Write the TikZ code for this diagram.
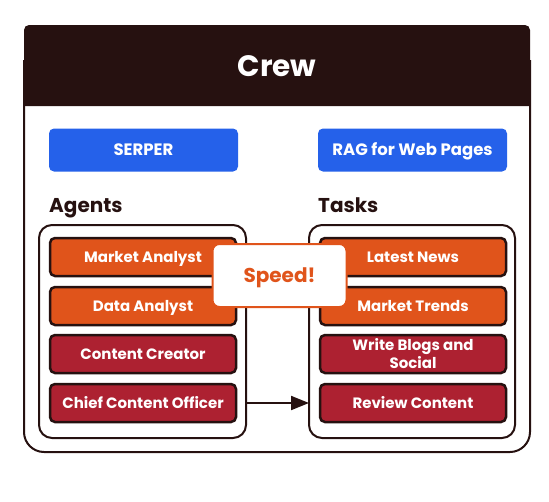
\documentclass[tikz,border=0pt]{standalone}
\usepackage{fontspec}
\setmainfont{Poppins}
\usetikzlibrary{arrows.meta}
\definecolor{dark}{HTML}{261110}
\definecolor{bluebtn}{HTML}{2561EA}
\definecolor{orng}{HTML}{E0541B}
\definecolor{crim}{HTML}{AD2131}
\tikzset{
  tool/.style={rectangle, rounded corners=5pt, fill=bluebtn, text=white, minimum width=189pt, minimum height=43pt, inner sep=0pt, text height=11.5pt, text depth=0pt, font=\bfseries\fontsize{16.5}{19}\selectfont},
  heading/.style={anchor=base west, inner sep=0pt, text=dark, font=\bfseries\fontsize{20}{24}\selectfont},
  container/.style={draw=dark, line width=2pt, rounded corners=13pt, fill=white},
  item/.style={rectangle, rounded corners=5pt, draw=dark, line width=2.5pt, text=white, minimum width=186pt, minimum height=38pt, inner sep=0pt, align=center, font=\bfseries\fontsize{15}{18}\selectfont},
  oneline/.style={text height=10.5pt, text depth=0pt},
  hot/.style={item, oneline, fill=orng},
  cool/.style={item, oneline, fill=crim},
  twoline/.style={item, fill=crim},
  speedbox/.style={rectangle, rounded corners=7pt, draw=orng, line width=2pt, fill=white, text=orng, minimum width=134pt, minimum height=63pt, inner sep=0pt, text height=14pt, text depth=0pt, font=\bfseries\fontsize{20}{24}\selectfont},
  link/.style={draw=dark, line width=2pt, -{Triangle[length=18pt,width=14pt]}}
}
\begin{document}
\begin{tikzpicture}[x=1pt,y=-1pt]
\useasboundingbox (0,0) rectangle (549,501);
% outer frame
\draw[draw=dark, line width=2pt, fill=white, rounded corners=20pt] (24,60) -- (24,452) -- (530,452) -- (530,60);
\fill[dark] (24,106) [rounded corners=5pt] -- (24,25) -- (530,25) [sharp corners] -- (530,106) -- cycle;
\node[text=white, inner sep=0pt, text height=20.5pt, text depth=0pt, font=\bfseries\fontsize{29.5}{35}\selectfont] (crew) at (277,66) {Crew};
% tools
\node[tool] (serper) at (143.5,150) {SERPER};
\node[tool] (rag) at (412.5,150) {RAG for Web Pages};
% headings
\node[heading] (agents) at (49,212) {Agents};
\node[heading] (tasks) at (318,212) {Tasks};
% containers
\draw[container] (39,225) rectangle (246,438);
\draw[container] (309,225) rectangle (515,438);
\coordinate (agR) at (246,403);
\coordinate (tkL) at (309,403);
% agents
\node[hot] (a1) at (143,257) {Market Analyst};
\node[hot] (a2) at (143,306) {Data Analyst};
\node[cool] (a3) at (143,354) {Content Creator};
\node[cool] (a4) at (143,403) {Chief Content Officer};
% tasks
\node[hot] (t1) at (413,257) {Latest News};
\node[hot] (t2) at (413,306) {Market Trends};
\node[twoline] (t3) at (413,354) {Write Blogs and\\Social};
\node[cool] (t4) at (413,403) {Review Content};
% speed
\node[speedbox] (speed) at (279.5,275.5) {Speed!};
% arrow
\draw[link] (agR) -- (tkL);
\end{tikzpicture}
\end{document}
